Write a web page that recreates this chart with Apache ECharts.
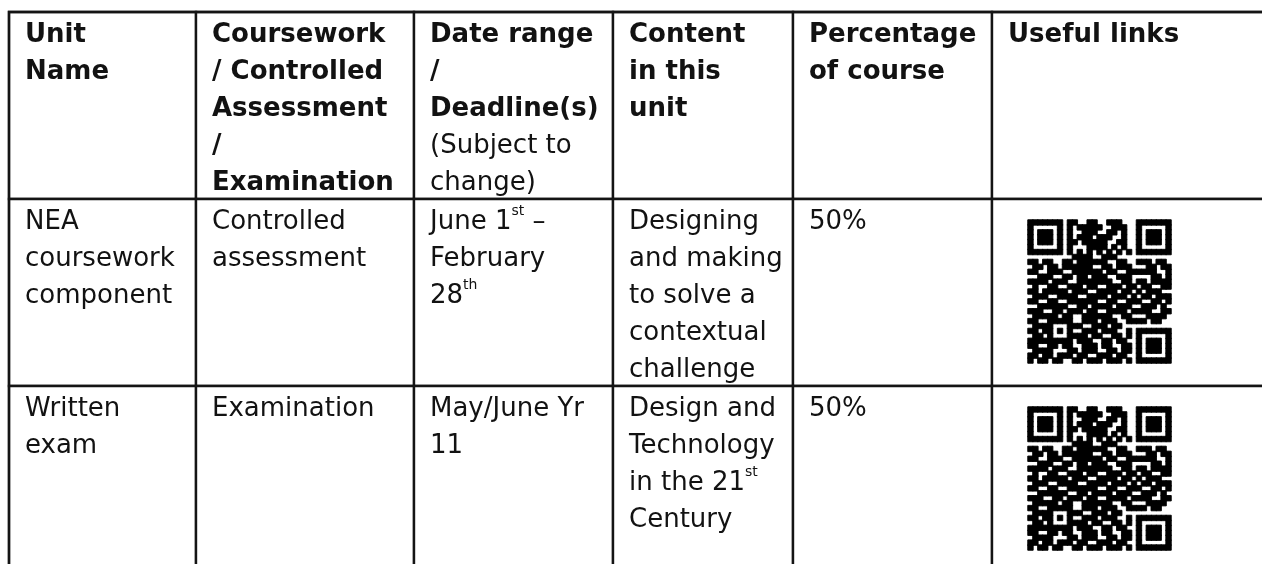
<!DOCTYPE html>
<html>
<head>
<meta charset="utf-8">
<script src="https://cdn.jsdelivr.net/npm/echarts@6/dist/echarts.min.js"></script>
<style>
html,body{margin:0;padding:0;background:#fff;}
#chart{width:1262px;height:564px;}
</style>
</head>
<body>
<div id="chart"></div>
<script>
// ---- table content ----
const headers = ['Unit\nName', 'Coursework\n/ Controlled\nAssessment\n/\nExamination', 'Date range\n/\nDeadline(s)', 'Content\nin this\nunit', 'Percentage\nof course', 'Useful links'];
const headerNotes = ['', '', '(Subject to\nchange)', '', '', ''];
const rowKeys = ['header', 'nea', 'exam'];
const unitNames = ['NEA\ncoursework\ncomponent', 'Written\nexam'];
const assessmentTypes = ['Controlled\nassessment', 'Examination'];
const dateRanges = ['June 1{sup|st} –\nFebruary\n28{sup|th}', 'May/June Yr\n11'];
const contents = ['Designing\nand making\nto solve a\ncontextual\nchallenge', 'Design and\nTechnology\nin the 21{sup|st}\nCentury'];
const percentages = [50, 50];

// ---- QR code modules (1 = dark), row by row ----
const qrSegments = [
  ['1111111','0','1100110011100','0','1111111'],
  ['1000001','0','1011111001110','0','1000001'],
  ['1011101','0','1001110011010','0','1011101'],
  ['1011101','0','1011101110010','0','1011101'],
  ['1011101','0','1101111100110','0','1011101'],
  ['1000001','0','1000111101010','0','1000001'],
  ['1111111','0','1010101010101','0','1111111'],
  ['0000000','0','0111100111000','0','0000000'],
  ['1101100','1','10111111001100','1','110110'],
  ['0110110','1','11111001101110','0','011011'],
  ['1100111','0','01111110110011','1','111001'],
  ['0011100','1','10110111001110','0','001101'],
  ['1111011','1','00111111100110','1','101111'],
  ['0100110','0','11101100111011','0','110011'],
  ['1101111','1','01110011110110','1','011100'],
  ['0111001','1','11001111011101','0','110111'],
  ['1100110','0','11111100110011','1','001101'],
  ['0011111','1','00110111101110','0','111010'],
  ['1110011','0','11101100111101','1','110011'],
  ['0111110','1','10011111100110','0','011110'],
  ['1100','11111','0011101110011','1','101100'],
  ['0111','10001','110011101100','0','0000000'],
  ['1101','10101','001110111001','0','1111111'],
  ['0110','10001','111011001101','0','1000001'],
  ['1111','11111','011100110110','0','1011101'],
  ['110011011001110110011','0','1011101'],
  ['011110001101110011011','0','1011101'],
  ['110110111011001110110','0','1000001'],
  ['101101100110111011101','0','1111111']
];
const qrRows = qrSegments.map(s => s.join(''));

const FONT = 'DejaVu Sans';
const colWidths = [187, 218, 199, 180, 199];
const rowHeight = 187;

const bold = s => '{b|' + s + '}';

const bodyData = [];
headers.forEach((h, c) => {
  let v = bold(h);
  if (headerNotes[c]) v += '\n' + headerNotes[c];
  bodyData.push({ coord: [c, 0], value: v });
});
const rowCols = [unitNames, assessmentTypes, dateRanges, contents, percentages.map(p => p + '%')];
for (let r = 0; r < unitNames.length; r++) {
  rowCols.forEach((col, c) => bodyData.push({ coord: [c, r + 1], value: String(col[r]) }));
  bodyData.push({ coord: [5, r + 1], value: '' });
}

const qrCells = [];
qrRows.forEach((row, r) => row.split('').forEach((ch, c) => { if (ch === '1') qrCells.push([c, r, 1]); }));
const qrIdx = qrRows.map((_, i) => String(i));

const chart = echarts.init(document.getElementById('chart'), null, { renderer: 'canvas' });

const qrGrids = [0, 1].map(i => ({ left: 1028, top: 220 + i * 187, width: 143, height: 143, show: false }));

chart.setOption({
  backgroundColor: '#fff',
  animation: false,
  matrix: {
    left: 9, top: 12, width: 1256, height: 561,
    x: { show: false, data: headers.map((h, i) => ({ value: 'c' + i, size: colWidths[i] })) },
    y: { show: false, data: rowKeys.map(k => ({ value: k, size: rowHeight })) },
    body: {
      data: bodyData,
      itemStyle: { color: '#fff', borderColor: '#141414', borderWidth: 2.4 },
      label: {
        position: 'insideTopLeft',
        distance: 0,
        overflow: 'none',
        lineOverflow: 'none',
        padding: [5, 0, 0, 16],
        fontFamily: FONT, fontSize: 26, lineHeight: 37, color: '#121212',
        rich: {
          b: { fontFamily: FONT, fontSize: 26, lineHeight: 37, fontWeight: 'bold', color: '#121212' },
          sup: { fontFamily: FONT, fontSize: 14, lineHeight: 18, verticalAlign: 'top', color: '#121212' }
        }
      }
    },
    backgroundStyle: { color: '#fff', borderColor: '#141414', borderWidth: 2.4 }
  },
  grid: qrGrids,
  xAxis: qrGrids.map((g, i) => ({ type: 'category', gridIndex: i, data: qrIdx, show: false })),
  yAxis: qrGrids.map((g, i) => ({ type: 'category', gridIndex: i, data: qrIdx, inverse: true, show: false })),
  series: qrGrids.map((g, i) => ({
    type: 'heatmap', xAxisIndex: i, yAxisIndex: i, data: qrCells, z: 10,
    itemStyle: { color: '#000', borderColor: '#000', borderWidth: 0.9 },
    emphasis: { disabled: true }, silent: true
  }))
});
</script>
</body>
</html>
